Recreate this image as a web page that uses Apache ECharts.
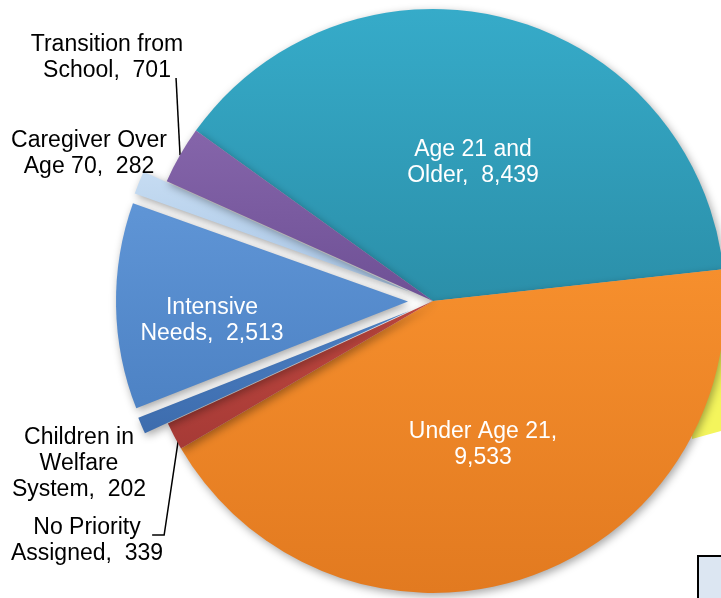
<!DOCTYPE html>
<html>
<head>
<meta charset="utf-8">
<style>
  html, body { margin: 0; padding: 0; background: #ffffff; }
  #chart { width: 721px; height: 598px; }
</style>
<script src="https://cdn.jsdelivr.net/npm/echarts@6/dist/echarts.min.js"></script>
</head>
<body>
<div id="chart"></div>
<script>
// ---- data ----
const categories = [
  'Age 21 and Older',
  'Under Age 21',
  'No Priority Assigned',
  'Children in Welfare System',
  'Intensive Needs',
  'Caregiver Over Age 70',
  'Transition from School'
];
const values = [8439, 9533, 339, 202, 2513, 282, 701];
const labelTemplates = [
  'Age 21 and\nOlder,  {v}',
  'Under Age 21,\n{v}',
  'No Priority\nAssigned,  {v}',
  'Children in\nWelfare\nSystem,  {v}',
  'Intensive\nNeeds,  {v}',
  'Caregiver Over\nAge 70,  {v}',
  'Transition from\nSchool,  {v}'
];
const exploded = [false, false, false, true, true, true, false];
const insideLabel = [true, true, false, false, true, false, false];
const showLeader = [false, false, true, false, false, false, true];

// ---- styles / layout ----
const colorPairs = [
  ['#36ABC9', '#2B8FA9'],
  ['#F68F2D', '#E27A20'],
  ['#C0483F', '#A63A36'],
  ['#4C80C4', '#3D6CAD'],
  ['#5F95D6', '#4D82C4'],
  ['#C6DCF2', '#A9C6E6'],
  ['#8565AA', '#6E5095']
];
const labelPos = [
  [473, 163], [483, 445], [87, 541], [79, 464], [212, 321], [89, 154], [107, 58]
];
const CENTER = [433, 301];
const RADIUS = 292;
const START = 144.3;
const FONT = '"Liberation Sans", Arial, sans-serif';

function fmt(v) { return String(v).replace(/\B(?=(\d{3})+(?!\d))/g, ','); }
function labelText(p) { return labelTemplates[p.dataIndex].replace('{v}', fmt(p.value)); }

const chart = echarts.init(document.getElementById('chart'), null, { renderer: 'canvas' });

const pieData = categories.map((name, i) => ({
  name: name,
  value: values[i],
  selected: exploded[i],
  itemStyle: {
    color: {
      type: 'linear', x: 0, y: 0, x2: 0, y2: 1,
      colorStops: [{ offset: 0, color: colorPairs[i][0] }, { offset: 1, color: colorPairs[i][1] }]
    }
  },
  label: {
    show: !exploded[i],
    color: insideLabel[i] ? '#ffffff' : '#000000'
  },
  labelLine: { show: showLeader[i] }
}));

// label-only overlay for the exploded slices (same geometry, no selection)
const overlayData = categories.map((name, i) => ({
  name: name,
  value: values[i],
  itemStyle: { color: 'rgba(0,0,0,0)' },
  label: {
    show: exploded[i],
    color: insideLabel[i] ? '#ffffff' : '#000000'
  },
  labelLine: { show: false }
}));

function layoutFn(params) {
  const i = params.dataIndex;
  const pos = labelPos[i];
  const out = { x: pos[0], y: pos[1], align: 'center', verticalAlign: 'middle' };
  const pts = params.labelLinePoints;
  if (showLeader[i] && pts && pts.length) {
    const p0 = pts[0];
    if (i === 6) {
      out.labelLinePoints = [[p0[0], p0[1]], [p0[0] - 4, pos[1] + 20]];
    } else if (i === 2) {
      out.labelLinePoints = [[p0[0] + 4, p0[1] + 5], [p0[0] - 10, pos[1] - 6], [p0[0] - 22, pos[1] - 6]];
    }
  }
  return out;
}

const commonLabel = {
  show: true,
  position: 'outside',
  fontFamily: FONT,
  fontSize: 23,
  lineHeight: 26,
  align: 'center',
  formatter: labelText
};

chart.setOption({
  animation: false,
  backgroundColor: '#ffffff',
  graphic: [
    {
      type: 'polygon', z: -10,
      shape: { points: [[692, 439], [721, 431], [721, 330], [692, 330]] },
      style: { fill: '#F4F55C' }
    },
    {
      type: 'rect', z: 10,
      shape: { x: 698, y: 556, width: 40, height: 60 },
      style: { fill: '#DCE6F2', stroke: '#000000', lineWidth: 2 }
    }
  ],
  series: [
    {
      type: 'pie',
      center: CENTER,
      radius: RADIUS,
      startAngle: START,
      clockwise: true,
      selectedMode: 'multiple',
      selectedOffset: 25,
      avoidLabelOverlap: false,
      z: 2,
      itemStyle: {
        shadowBlur: 8,
        shadowOffsetX: 2,
        shadowOffsetY: 3,
        shadowColor: 'rgba(0,0,0,0.35)'
      },
      label: commonLabel,
      labelLine: {
        lineStyle: { color: '#000000', width: 1.5 },
        length: 10,
        length2: 10
      },
      labelLayout: layoutFn,
      emphasis: { disabled: true },
      data: pieData
    },
    {
      type: 'pie',
      center: CENTER,
      radius: RADIUS,
      startAngle: START,
      clockwise: true,
      silent: true,
      selectedMode: false,
      avoidLabelOverlap: false,
      z: 3,
      label: commonLabel,
      labelLine: { show: false },
      labelLayout: layoutFn,
      emphasis: { disabled: true },
      data: overlayData
    }
  ]
});
</script>
</body>
</html>
